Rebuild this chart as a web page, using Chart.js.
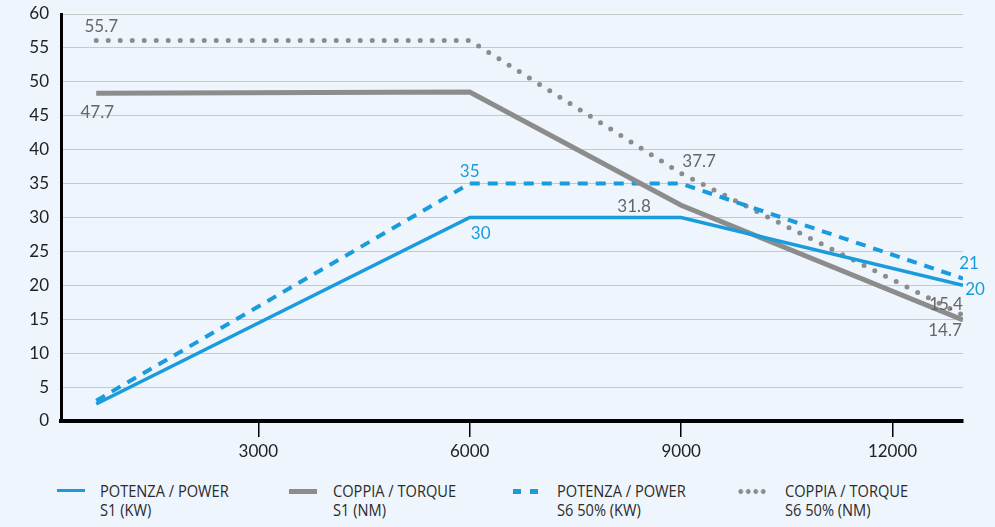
<!DOCTYPE html>
<html>
<head>
<meta charset="utf-8">
<script src="https://cdn.jsdelivr.net/npm/chart.js@4"></script>
<style>
  html, body { margin: 0; padding: 0; background: #eff5fd; }
  #wrap { position: relative; width: 995px; height: 527px; }
  #chart { position: absolute; left: 0; top: 0; }
  .leg { position: absolute; top: 481px; font-family: "Open Sans", sans-serif; font-size: 17px; line-height: 19px; color: #2b2b2b; transform: scaleX(0.86); transform-origin: 0 0; white-space: nowrap; }
  .sample { position: absolute; top: 489px; width: 28px; height: 4px; }
</style>
</head>
<body>
<div id="wrap">
  <canvas id="chart" width="995" height="470"></canvas>
  <div class="sample" style="left:57px;height:3px;background:#1a9bdb;"></div>
  <div class="leg" style="left:100px;">POTENZA / POWER<br>S1 (KW)</div>
  <div class="sample" style="left:289px;height:5px;background:#8c8c8c;"></div>
  <div class="leg" style="left:333px;">COPPIA / TORQUE<br>S1 (NM)</div>
  <div class="sample" style="left:513px;width:33px;height:5px;background:repeating-linear-gradient(90deg,#1a9bdb 0 8px,transparent 8px 17px);"></div>
  <div class="leg" style="left:557px;">POTENZA / POWER<br>S6 50% (KW)</div>
  <div class="sample" style="left:737px;width:30px;height:5px;background:radial-gradient(circle,#8c8c8c 2.2px,transparent 2.6px) 0 0/7.5px 5px repeat-x;"></div>
  <div class="leg" style="left:785px;">COPPIA / TORQUE<br>S6 50% (NM)</div>
</div>
<script>
// speed (rpm) on x, value on y
const rpm = [700, 6000, 9000, 13000];
const powerS1 = [2.5, 30, 30, 20];
const torqueS1 = [48.3, 48.5, 31.8, 14.9];
const powerS6 = [3, 35, 35, 21];
const torqueS6 = [56.1, 56.1, 36.5, 15.6];
const xTicks = [3000, 6000, 9000, 12000];

// value labels shown on the chart: [dataset, point, text]
const valueLabels = [
  [3, 0, '55.7'], [1, 0, '47.7'], [2, 1, '35'], [0, 1, '30'],
  [1, 2, '31.8'], [3, 2, '37.7'], [2, 3, '21'], [0, 3, '20'],
  [3, 3, '15.4'], [1, 3, '14.7']
];
const labelOffsets = [
  [5, -14], [1, 19], [0, -12], [11, 16],
  [-47, 1], [18, -12], [6, -15], [12, 4],
  [-17, -11], [-18, 11]
];

const blue = '#1a9bdb';
const grey = '#8c8c8c';

function pts(ys) {
  return rpm.map((x, i) => ({ x: x, y: ys[i] }));
}

const labelPlugin = {
  id: 'valueLabels',
  afterDatasetsDraw(chart) {
    const ctx = chart.ctx;
    ctx.save();
    ctx.font = '17px Lato, sans-serif';
    ctx.textAlign = 'center';
    ctx.textBaseline = 'middle';
    valueLabels.forEach((l, i) => {
      const el = chart.getDatasetMeta(l[0]).data[l[1]];
      ctx.fillStyle = (l[0] % 2 === 0) ? blue : '#666666';
      ctx.fillText(l[2], el.x + labelOffsets[i][0], el.y + labelOffsets[i][1]);
    });
    ctx.restore();
  }
};

new Chart(document.getElementById('chart').getContext('2d'), {
  type: 'line',
  data: {
    datasets: [
      { label: 'POTENZA / POWER S1 (KW)', data: pts(powerS1), borderColor: blue, borderWidth: 3.5, pointRadius: 0, tension: 0 },
      { label: 'COPPIA / TORQUE S1 (NM)', data: pts(torqueS1), borderColor: grey, borderWidth: 5, pointRadius: 0, tension: 0 },
      { label: 'POTENZA / POWER S6 50% (KW)', data: pts(powerS6), borderColor: blue, borderWidth: 4, borderDash: [10, 8], pointRadius: 0, tension: 0 },
      { label: 'COPPIA / TORQUE S6 50% (NM)', data: pts(torqueS6), borderColor: grey, borderWidth: 5, borderDash: [0, 12], borderCapStyle: 'round', pointRadius: 0, tension: 0 }
    ]
  },
  options: {
    responsive: false,
    animation: false,
    layout: { padding: { top: 14, right: 32, left: 0, bottom: 0 } },
    plugins: { legend: { display: false }, tooltip: { enabled: false } },
    scales: {
      x: {
        type: 'linear',
        min: 200,
        max: 13000,
        afterBuildTicks(scale) {
          scale.ticks = xTicks.map(v => ({ value: v }));
        },
        afterFit(scale) { scale.height = 49; scale.paddingLeft = 0; scale.paddingRight = 0; },
        border: { color: '#000', width: 4 },
        grid: { drawOnChartArea: false, color: '#000', lineWidth: 1.5, tickLength: 16 },
        ticks: { color: '#222', font: { family: 'Lato, sans-serif', size: 17 }, padding: 4, maxRotation: 0, callback: v => String(v) }
      },
      y: {
        min: 0,
        max: 60,
        afterFit(scale) { scale.width = 61; scale.paddingTop = 0; scale.paddingBottom = 0; },
        border: { color: '#000', width: 3 },
        grid: { color: '#c8c8c8', lineWidth: 1, drawTicks: false },
        ticks: { stepSize: 5, color: '#222', font: { family: 'Lato, sans-serif', size: 17 }, padding: 12 }
      }
    }
  },
  plugins: [labelPlugin]
});
</script>
</body>
</html>
